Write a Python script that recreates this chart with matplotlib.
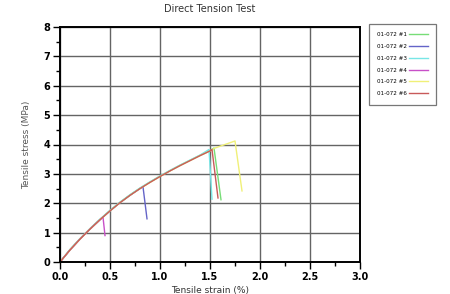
import matplotlib
matplotlib.use("Agg")
import matplotlib.pyplot as plt
from matplotlib.ticker import MultipleLocator

labels = ["01-072 #1", "01-072 #2", "01-072 #3", "01-072 #4", "01-072 #5", "01-072 #6"]
colors = ["#77dd77", "#6464c8", "#78e6e6", "#c850c8", "#f0f078", "#c85a5a"]

strain_1 = [0.0, 0.1, 0.2, 0.3, 0.4, 0.5, 0.6, 0.7, 0.8, 0.9, 1.0, 1.1, 1.2, 1.3, 1.4, 1.5, 1.54, 1.61]
stress_1 = [0.0, 0.42, 0.79, 1.13, 1.45, 1.75, 2.03, 2.28, 2.51, 2.72, 2.92, 3.11, 3.29, 3.46, 3.63, 3.79, 3.88, 2.12]
strain_2 = [0.0, 0.1, 0.2, 0.3, 0.4, 0.5, 0.6, 0.7, 0.8, 0.83, 0.87]
stress_2 = [0.0, 0.41, 0.78, 1.12, 1.44, 1.74, 2.02, 2.27, 2.5, 2.56, 1.47]
strain_3 = [0.0, 0.1, 0.2, 0.3, 0.4, 0.5, 0.6, 0.7, 0.8, 0.9, 1.0, 1.1, 1.2, 1.3, 1.4, 1.49, 1.52]
stress_3 = [0.0, 0.43, 0.8, 1.14, 1.46, 1.76, 2.04, 2.29, 2.52, 2.73, 2.93, 3.12, 3.3, 3.47, 3.64, 3.83, 2.14]
strain_4 = [0.0, 0.1, 0.2, 0.3, 0.4, 0.43, 0.45]
stress_4 = [0.0, 0.41, 0.78, 1.12, 1.44, 1.53, 0.9]
strain_5 = [0.0, 0.1, 0.2, 0.3, 0.4, 0.5, 0.6, 0.7, 0.8, 0.9, 1.0, 1.1, 1.2, 1.3, 1.4, 1.5, 1.55, 1.65, 1.75, 1.82]
stress_5 = [0.0, 0.41, 0.78, 1.12, 1.44, 1.74, 2.02, 2.27, 2.5, 2.71, 2.91, 3.1, 3.28, 3.45, 3.62, 3.78, 3.88, 4.0, 4.12, 2.42]
strain_6 = [0.0, 0.1, 0.2, 0.3, 0.4, 0.5, 0.6, 0.7, 0.8, 0.9, 1.0, 1.1, 1.2, 1.3, 1.4, 1.5, 1.52, 1.58]
stress_6 = [0.0, 0.41, 0.78, 1.12, 1.44, 1.74, 2.02, 2.27, 2.5, 2.71, 2.91, 3.1, 3.28, 3.45, 3.62, 3.78, 3.83, 2.18]

strains = [strain_1, strain_2, strain_3, strain_4, strain_5, strain_6]
stresses = [stress_1, stress_2, stress_3, stress_4, stress_5, stress_6]

x_ticks = [0.0, 0.5, 1.0, 1.5, 2.0, 2.5, 3.0]
x_tick_labels = ["0.0", "0.5", "1.0", "1.5", "2.0", "2.5", "3.0"]

fig = plt.figure(figsize=(4.5, 2.94), dpi=100)
ax = fig.add_axes([60/450, 1-262/294, 300/450, 235/294])

for s, t, c, l in zip(strains, stresses, colors, labels):
    ax.plot(s, t, color=c, lw=1.0, label=l)

ax.set_xlim(0, 3.0)
ax.set_ylim(0, 8)
ax.set_xticks(x_ticks)
ax.set_xticklabels(x_tick_labels)
ax.xaxis.set_minor_locator(MultipleLocator(0.25))
ax.yaxis.set_major_locator(MultipleLocator(1))
ax.yaxis.set_minor_locator(MultipleLocator(0.5))
ax.grid(True, which="major", color="#646464", lw=1.0)
ax.set_axisbelow(True)
for sp in ax.spines.values():
    sp.set_linewidth(1.4)
ax.tick_params(which="major", length=5, width=1, labelsize=7, pad=2)
ax.tick_params(which="minor", length=3, width=1)
for lab in ax.get_xticklabels() + ax.get_yticklabels():
    lab.set_fontweight("bold")

ax.set_title("Direct Tension Test", fontsize=7, pad=11, color="#333333")
ax.set_xlabel("Tensile strain (%)", fontsize=6.5, labelpad=3, color="#333333")
ax.set_ylabel("Tensile stress (MPa)", fontsize=6.5, labelpad=9, color="#555555")

leg = fig.legend(loc="upper left", bbox_to_anchor=(366/450, 1-21/294), fontsize=4.1,
                 markerfirst=False, frameon=True, fancybox=False, handlelength=3.3,
                 borderpad=1.45, labelspacing=1.2, handletextpad=0.4)
leg.get_frame().set_edgecolor("#555555")
leg.get_frame().set_linewidth(0.9)

fig.savefig("out.png", dpi=100)
